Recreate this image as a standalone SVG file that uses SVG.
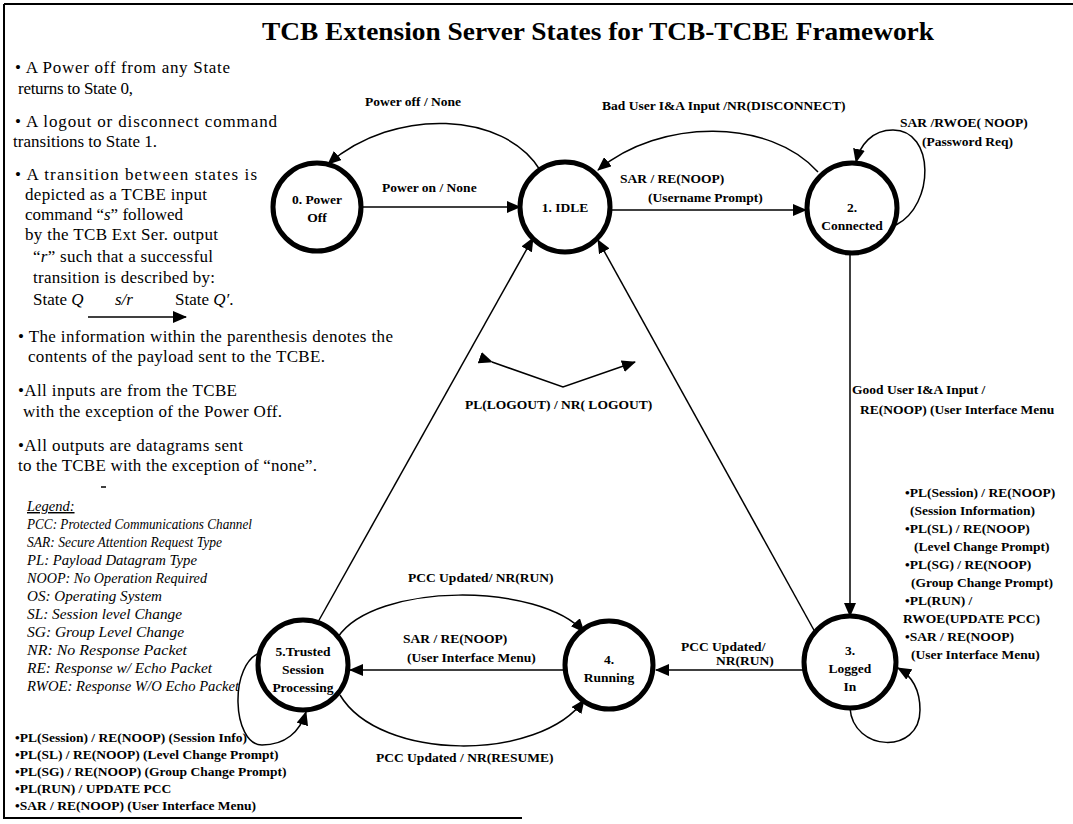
<svg xmlns="http://www.w3.org/2000/svg" width="1073" height="824" viewBox="0 0 1073 824">
<style>
.t{font-family:"Liberation Serif",serif;font-size:17px;fill:#000}
.lg{font-family:"Liberation Serif",serif;font-size:14.5px;font-style:italic;fill:#000}
.b{font-family:"Liberation Serif",serif;font-size:13.5px;font-weight:bold;fill:#000}
.n{font-family:"Liberation Serif",serif;font-size:13.5px;font-weight:bold;fill:#000;text-anchor:middle}
.c{fill:#fff;stroke:#000;stroke-width:5}
.e{fill:none;stroke:#000;stroke-width:1.5}
.i{font-style:italic}
</style>
<defs>
<marker id="ah" markerUnits="userSpaceOnUse" markerWidth="14" markerHeight="12" refX="13" refY="6" orient="auto">
<path d="M0,0 L14,6 L0,12 z" fill="#000"/>
</marker>
</defs>
<rect width="1073" height="824" fill="#fff"/>
<g id="frame" stroke="#000" stroke-width="2" fill="none">
<path d="M4,4 L1073,4 M4,4 L4,818 L522,818"/>
</g>
<text x="598" y="40" text-anchor="middle" style="font-family:'Liberation Serif',serif;font-size:25px;font-weight:bold" textLength="672" lengthAdjust="spacingAndGlyphs">TCB Extension Server States for TCB-TCBE Framework</text>

<g id="notes">
<text class="t" x="15" y="73" textLength="215">• A Power off from any State</text>
<text class="t" x="18" y="94" textLength="115">returns to State 0,</text>
<text class="t" x="15" y="127" textLength="262">• A logout or disconnect command</text>
<text class="t" x="13" y="147" textLength="144">transitions to State 1.</text>
<text class="t" x="15" y="180" textLength="242">• A transition between states is</text>
<text class="t" x="25" y="200" textLength="182">depicted as a TCBE input</text>
<text class="t" x="25" y="220" textLength="158">command “<tspan class="i">s</tspan>” followed</text>
<text class="t" x="25" y="240" textLength="193">by the TCB Ext Ser. output</text>
<text class="t" x="33" y="262" textLength="180">“<tspan class="i">r</tspan>” such that a successful</text>
<text class="t" x="33" y="283" textLength="182">transition is described by:</text>
<text class="t" x="33" y="305">State <tspan class="i">Q</tspan></text>
<text class="t i" x="115" y="305">s/r</text>
<text class="t" x="175" y="305">State <tspan class="i">Q′</tspan>.</text>
<line class="e" x1="88" y1="317" x2="186" y2="317" marker-end="url(#ah)"/>
<text class="t" x="18" y="342" textLength="375">• The information within the parenthesis denotes the</text>
<text class="t" x="28" y="362" textLength="297">contents of the payload sent to the TCBE.</text>
<text class="t" x="18" y="396" textLength="219">•All inputs are from the TCBE</text>
<text class="t" x="23" y="417" textLength="259">with the exception of the Power Off.</text>
<text class="t" x="18" y="451" textLength="225">•All outputs are datagrams sent</text>
<text class="t" x="18" y="471" textLength="299">to the TCBE with the exception of “none”.</text>
</g>

<g id="legend">
<line x1="101" y1="487" x2="106" y2="487" stroke="#000" stroke-width="1.5"/>
<text class="lg" x="27" y="511" text-decoration="underline">Legend:</text>
<text class="lg" x="27" y="529" textLength="225" lengthAdjust="spacingAndGlyphs">PCC: Protected Communications Channel</text>
<text class="lg" x="27" y="547" textLength="195" lengthAdjust="spacingAndGlyphs">SAR: Secure Attention Request Type</text>
<text class="lg" x="27" y="565" textLength="170" lengthAdjust="spacingAndGlyphs">PL:  Payload Datagram Type</text>
<text class="lg" x="27" y="583" textLength="180" lengthAdjust="spacingAndGlyphs">NOOP: No Operation Required</text>
<text class="lg" x="27" y="601" textLength="135" lengthAdjust="spacingAndGlyphs">OS: Operating System</text>
<text class="lg" x="27" y="619" textLength="155" lengthAdjust="spacingAndGlyphs">SL: Session level Change</text>
<text class="lg" x="27" y="637" textLength="157" lengthAdjust="spacingAndGlyphs">SG: Group Level Change</text>
<text class="lg" x="27" y="655" textLength="160" lengthAdjust="spacingAndGlyphs">NR: No Response Packet</text>
<text class="lg" x="27" y="673" textLength="185" lengthAdjust="spacingAndGlyphs">RE: Response w/ Echo Packet</text>
<text class="lg" x="27" y="691" textLength="212" lengthAdjust="spacingAndGlyphs">RWOE: Response W/O Echo Packet</text>
</g>

<g id="loop5-list">
<text class="b" x="15" y="742">•PL(Session) / RE(NOOP) (Session Info)</text>
<text class="b" x="15" y="759">•PL(SL) / RE(NOOP) (Level Change Prompt)</text>
<text class="b" x="15" y="776">•PL(SG) / RE(NOOP) (Group Change Prompt)</text>
<text class="b" x="15" y="793">•PL(RUN) / UPDATE PCC</text>
<text class="b" x="15" y="810">•SAR / RE(NOOP) (User Interface Menu)</text>
</g>

<g id="loop3-list">
<text class="b" x="905" y="497">•PL(Session) / RE(NOOP)</text>
<text class="b" x="910" y="515">(Session Information)</text>
<text class="b" x="905" y="533">•PL(SL) / RE(NOOP)</text>
<text class="b" x="914" y="551">(Level Change Prompt)</text>
<text class="b" x="905" y="569">•PL(SG) / RE(NOOP)</text>
<text class="b" x="911" y="587">(Group Change Prompt)</text>
<text class="b" x="905" y="605">•PL(RUN) /</text>
<text class="b" x="903" y="623">RWOE(UPDATE PCC)</text>
<text class="b" x="905" y="641">•SAR / RE(NOOP)</text>
<text class="b" x="911" y="659">(User Interface Menu)</text>
</g>

<g id="connectors">
<path class="e" d="M540,170 C505,112 395,106 328,164" marker-end="url(#ah)"/>
<text class="b" x="365" y="106">Power off / None</text>
<line class="e" x1="362" y1="207" x2="520" y2="207" marker-end="url(#ah)"/>
<text class="b" x="382" y="192">Power on / None</text>
<path class="e" d="M818,172 C770,118 660,118 598,170" marker-end="url(#ah)"/>
<text class="b" x="602" y="110">Bad User I&amp;A Input /NR(DISCONNECT)</text>
<line class="e" x1="610" y1="210" x2="806" y2="210" marker-end="url(#ah)"/>
<text class="b" x="620" y="183">SAR / RE(NOOP)</text>
<text class="b" x="648" y="202">(Username Prompt)</text>
<path class="e" d="M896,225 C935,205 935,130 893,130 C872,130 860,145 856,162" marker-end="url(#ah)"/>
<text class="b" x="900" y="127">SAR /RWOE( NOOP)</text>
<text class="b" x="922" y="146">(Password Req)</text>
<line class="e" x1="850" y1="253" x2="850" y2="616" marker-end="url(#ah)"/>
<text class="b" x="852" y="394">Good User I&amp;A Input /</text>
<text class="b" x="860" y="414">RE(NOOP) (User Interface Menu</text>
<line class="e" x1="318" y1="622" x2="533" y2="238" marker-end="url(#ah)"/>
<line class="e" x1="815" y1="632" x2="598" y2="240" marker-end="url(#ah)"/>
<path class="e" d="M492,362 L563,387 L635,362" marker-start="url(#ah)" marker-end="url(#ah)"/>
<text class="b" x="465" y="409">PL(LOGOUT) /  NR( LOGOUT)</text>
<line class="e" x1="803" y1="670" x2="656" y2="670" marker-end="url(#ah)"/>
<text class="b" x="681" y="651">PCC Updated/</text>
<text class="b" x="716" y="665">NR(RUN)</text>
<line class="e" x1="564" y1="670" x2="350" y2="670" marker-end="url(#ah)"/>
<text class="b" x="403" y="643">SAR / RE(NOOP)</text>
<text class="b" x="407" y="662">(User Interface Menu)</text>
<path class="e" d="M338,637 C375,582 540,582 584,632" marker-end="url(#ah)"/>
<text class="b" x="408" y="582">PCC Updated/ NR(RUN)</text>
<path class="e" d="M340,695 C380,762 540,762 584,700" marker-end="url(#ah)"/>
<text class="b" x="376" y="762">PCC Updated / NR(RESUME)</text>
<path class="e" d="M262,652 C228,662 232,745 262,745 C285,745 300,732 306,712" marker-end="url(#ah)"/>
<path class="e" d="M850,708 C853,752 920,755 920,710 C920,690 912,676 898,668" marker-end="url(#ah)"/>
</g>

<g id="s0"><circle class="c" cx="317" cy="207" r="44"/><text class="n" x="317" y="204">0.  Power</text><text class="n" x="317" y="222">Off</text></g>
<g id="s1"><circle class="c" cx="565" cy="207" r="45"/><text class="n" x="565" y="212">1.  IDLE</text></g>
<g id="s2"><circle class="c" cx="852" cy="208" r="45"/><text class="n" x="852" y="212">2.</text><text class="n" x="852" y="230">Connected</text></g>
<g id="s3"><circle class="c" cx="850" cy="662" r="46"/><text class="n" x="850" y="655">3.</text><text class="n" x="850" y="673">Logged</text><text class="n" x="850" y="691">In</text></g>
<g id="s4"><circle class="c" cx="609" cy="665" r="44"/><text class="n" x="609" y="664">4.</text><text class="n" x="609" y="682">Running</text></g>
<g id="s5"><circle class="c" cx="303" cy="665" r="45"/><text class="n" x="303" y="656">5.Trusted</text><text class="n" x="303" y="674">Session</text><text class="n" x="303" y="692">Processing</text></g>
</svg>
